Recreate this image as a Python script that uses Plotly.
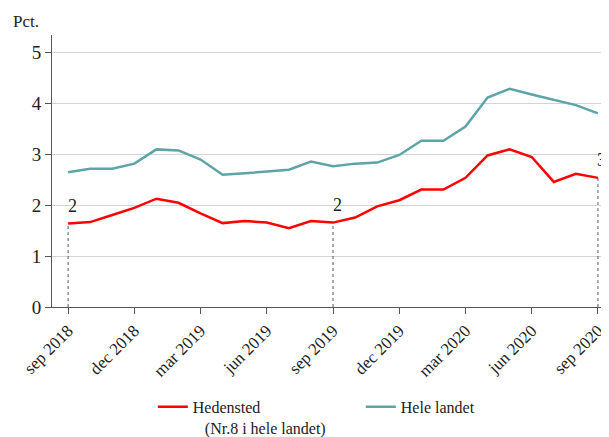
import plotly.graph_objects as go

months = [
    "sep 2018", "okt 2018", "nov 2018", "dec 2018", "jan 2019", "feb 2019",
    "mar 2019", "apr 2019", "maj 2019", "jun 2019", "jul 2019", "aug 2019",
    "sep 2019", "okt 2019", "nov 2019", "dec 2019", "jan 2020", "feb 2020",
    "mar 2020", "apr 2020", "maj 2020", "jun 2020", "jul 2020", "aug 2020",
    "sep 2020",
]
hedensted = [
    1.64, 1.67, 1.81, 1.95, 2.13, 2.05, 1.84, 1.65, 1.69, 1.66, 1.55, 1.69,
    1.66, 1.76, 1.98, 2.10, 2.31, 2.31, 2.54, 2.98, 3.10, 2.95, 2.46, 2.62,
    2.54,
]
hele_landet = [
    2.65, 2.72, 2.72, 2.82, 3.10, 3.08, 2.90, 2.60, 2.63, 2.67, 2.70, 2.86,
    2.77, 2.82, 2.84, 2.99, 3.27, 3.27, 3.55, 4.12, 4.29, 4.18, 4.07, 3.97,
    3.81,
]
# rank labels shown at selected months
rank_months = ["sep 2018", "sep 2019", "sep 2020"]
rank_labels = ["2", "2", "3"]

tick_months = months[::3]

RED = "#ff0000"
TEAL = "#5ca4a7"
FONT = "Liberation Serif"

fig = go.Figure()

fig.add_trace(go.Scatter(
    x=months, y=hedensted, mode="lines",
    line=dict(color=RED, width=2.5),
    name="Hedensted<br>\u00a0\u00a0\u00a0(Nr.8 i hele landet)",
))
fig.add_trace(go.Scatter(
    x=months, y=hele_landet, mode="lines",
    line=dict(color=TEAL, width=2.5),
    name="Hele landet",
))

for m, lab in zip(rank_months, rank_labels):
    val = hedensted[months.index(m)]
    fig.add_trace(go.Scatter(
        x=[m, m], y=[0, val], mode="lines",
        line=dict(color="#555555", width=1, dash="dot"),
        showlegend=False, hoverinfo="skip",
    ))
    fig.add_annotation(
        x=m, y=val, text=lab, showarrow=False,
        xshift=4, yshift=18, font=dict(size=18, color="#222222"),
    )

fig.add_annotation(
    x=-0.047, y=1.048, xref="paper", yref="paper", text="Pct.",
    xanchor="center", yanchor="middle",
    showarrow=False, font=dict(size=17, color="#222222"),
)

# the page body adds an 8px margin, so the figure is sized to fit inside it
fig.update_layout(
    width=601, height=429,
    margin=dict(l=44, r=0, t=27, b=130, autoexpand=False),
    paper_bgcolor="white", plot_bgcolor="white",
    font=dict(family=FONT, color="#222222"),
    showlegend=True,
    legend=dict(
        orientation="h", x=0.181, y=-0.305, xanchor="left", yanchor="top",
        font=dict(size=16), itemwidth=30, entrywidth=163, valign="top",
    ),
    xaxis=dict(
        type="category", categoryorder="array", categoryarray=months,
        range=[-0.73, 24.5], automargin=False,
        tickvals=tick_months, ticktext=tick_months, tickangle=-45,
        ticks="outside", ticklen=6, tickcolor="#555555",
        showline=True, linecolor="#555555", linewidth=1,
        showgrid=False, tickfont=dict(size=17),
    ),
    yaxis=dict(
        range=[0, 5.35], tickvals=[0, 1, 2, 3, 4, 5], automargin=False,
        ticks="outside", ticklen=6, tickcolor="#555555",
        showline=True, linecolor="#555555", linewidth=1,
        showgrid=True, gridcolor="#d4d4d4", gridwidth=1,
        zeroline=False, tickfont=dict(size=19),
    ),
)

fig.write_html("out.html")
